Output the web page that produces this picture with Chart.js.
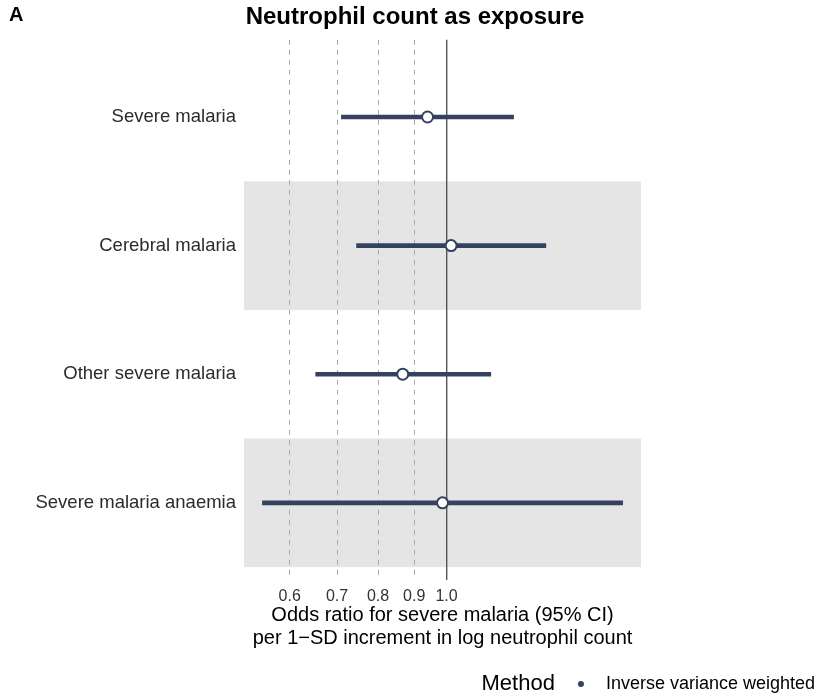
<!DOCTYPE html>
<html>
<head>
<meta charset="utf-8">
<script src="https://cdn.jsdelivr.net/npm/chart.js@4.4.1/dist/chart.umd.min.js"></script>
<style>
  html, body { margin: 0; padding: 0; background: #fff; }
</style>
</head>
<body>
<canvas id="forest" width="820" height="695"></canvas>
<script>
const outcomes = ["Severe malaria", "Cerebral malaria", "Other severe malaria", "Severe malaria anaemia"];
const oddsRatio = [0.940, 1.015, 0.867, 0.987];
const ciLower = [0.710, 0.746, 0.653, 0.549];
const ciUpper = [1.244, 1.382, 1.155, 1.775];
const xTicks = [0.6, 0.7, 0.8, 0.9, 1.0];
const shadedRows = [2, 4];
const methodName = "Inverse variance weighted";

const navy = "#34425f";
const ctx = document.getElementById("forest").getContext("2d");

Chart.defaults.font.family = "'Liberation Sans', Arial, sans-serif";

// small filled dot for the legend key
const dot = document.createElement("canvas");
dot.width = 8;
dot.height = 8;
const dctx = dot.getContext("2d");
dctx.fillStyle = navy;
dctx.beginPath();
dctx.arc(4, 4, 3, 0, Math.PI * 2);
dctx.fill();

const bandPlugin = {
  id: "bands",
  beforeDraw(chart) {
    const { ctx, chartArea, scales } = chart;
    ctx.save();
    ctx.fillStyle = "#e5e5e5";
    shadedRows.forEach((r) => {
      const a = scales.y.getPixelForValue(r - 0.5);
      const b = scales.y.getPixelForValue(r + 0.5);
      ctx.fillRect(chartArea.left, Math.min(a, b), chartArea.right - chartArea.left, Math.abs(b - a));
    });
    ctx.restore();
  },
};

const labelPlugin = {
  id: "labels",
  afterDraw(chart) {
    const { ctx } = chart;
    ctx.save();
    ctx.fillStyle = "#000";
    ctx.textBaseline = "alphabetic";
    ctx.font = "bold 20px 'Liberation Sans', Arial, sans-serif";
    ctx.fillText("A", 9, 21);
    const box = chart.legend.legendHitBoxes[0];
    if (box) {
      ctx.textBaseline = "middle";
      ctx.font = "22px 'Liberation Sans', Arial, sans-serif";
      ctx.textAlign = "right";
      ctx.fillText("Method", box.left - 10, box.top + box.height / 2);
    }
    ctx.restore();
  },
};

new Chart(ctx, {
  type: "scatter",
  data: {
    datasets: [
      {
        type: "scatter",
        label: methodName,
        data: outcomes.map((_, i) => ({ x: oddsRatio[i], y: i + 1 })),
        pointRadius: 5.5,
        pointBorderWidth: 2,
        borderColor: navy,
        backgroundColor: "#ffffff",
        order: 1,
      },
      {
        type: "bar",
        label: "95% CI",
        indexAxis: "y",
        data: outcomes.map((_, i) => ({ x: [ciLower[i], ciUpper[i]], y: i + 1 })),
        backgroundColor: navy,
        borderWidth: 0,
        barThickness: 4,
        order: 2,
      },
    ],
  },
  options: {
    responsive: false,
    animation: false,
    events: [],
    layout: { padding: { left: 10, right: 0, top: 0, bottom: -8 } },
    scales: {
      x: {
        type: "logarithmic",
        min: 0.517,
        max: 1.884,
        afterBuildTicks: (s) => {
          s.ticks = xTicks.map((v) => ({ value: v }));
        },
        ticks: {
          callback: (v) => Number(v).toFixed(1),
          color: "#333333",
          font: { size: 16 },
          padding: 7,
          autoSkip: false,
          maxRotation: 0,
        },
        grid: {
          drawTicks: false,
          color: (c) => (c.tick && c.tick.value === 1 ? "#555555" : "#ababab"),
          lineWidth: (c) => (c.tick && c.tick.value === 1 ? 1.4 : 1),
        },
        border: {
          display: false,
          dash: (c) => (c.tick && c.tick.value === 1 ? [] : [5, 5]),
        },
        title: {
          display: true,
          text: ["Odds ratio for severe malaria (95% CI)", "per 1\u2212SD increment in log neutrophil count"],
          color: "#000",
          font: { size: 20, lineHeight: 1.15 },
          padding: { top: 0, bottom: 20 },
        },
        afterFit: (s) => {
          s.height = 90;
        },
      },
      y: {
        type: "linear",
        reverse: true,
        offset: false,
        min: 0.4,
        max: 4.6,
        afterBuildTicks: (s) => {
          s.ticks = outcomes.map((_, i) => ({ value: i + 1 }));
        },
        ticks: {
          callback: (v) => outcomes[v - 1],
          color: "#2b2b2b",
          font: { size: 18.5 },
          padding: 8,
          autoSkip: false,
        },
        grid: { display: false, drawTicks: false },
        border: { display: false },
        afterFit: (s) => {
          s.width = 234;
        },
      },
      yRight: {
        type: "linear",
        position: "right",
        ticks: { display: false },
        grid: { display: false, drawTicks: false },
        border: { display: false },
        afterFit: (s) => {
          s.width = 179;
        },
      },
    },
    plugins: {
      title: {
        display: true,
        text: "Neutrophil count as exposure",
        color: "#000",
        font: { size: 24, weight: "bold", lineHeight: 1.2 },
        padding: { top: 3, bottom: 8 },
      },
      legend: {
        position: "bottom",
        align: "end",
        labels: {
          usePointStyle: true,
          pointStyleWidth: 32,
          padding: 5,
          color: "#000",
          font: { size: 18 },
          generateLabels: () => [
            {
              text: methodName,
              pointStyle: dot,
              fillStyle: navy,
              strokeStyle: navy,
              lineWidth: 0,
              hidden: false,
              datasetIndex: 0,
            },
          ],
        },
      },
      tooltip: { enabled: false },
    },
  },
  plugins: [bandPlugin, labelPlugin],
});
</script>
</body>
</html>
